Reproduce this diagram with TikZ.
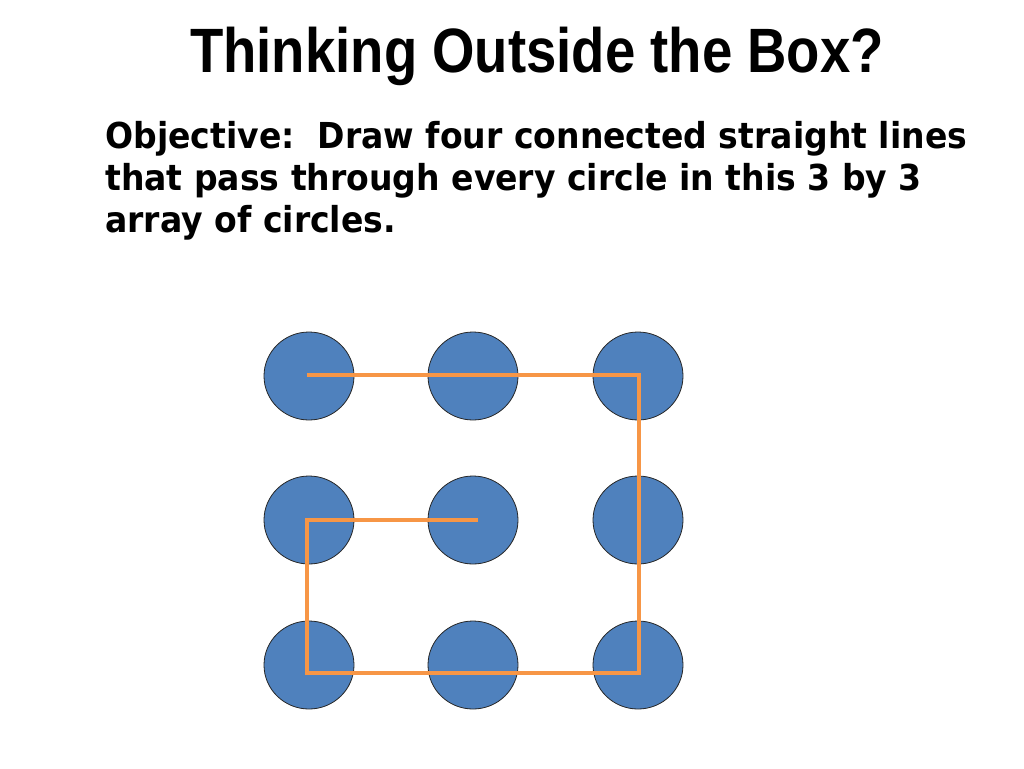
\documentclass[tikz,border=0pt]{standalone}
\usepackage{fontspec}
\usepackage{tikz}
\newfontfamily\titlefont[FakeStretch=0.87]{Liberation Sans}
\newfontfamily\bodyfont[FakeStretch=0.925]{DejaVu Sans}
\definecolor{dotblue}{HTML}{4F81BD}
\definecolor{pathorange}{HTML}{F79646}
\tikzset{
    dot/.style={ellipse,draw=black!85,fill=dotblue,line width=0.6pt,minimum width=90pt*0.75,minimum height=88pt*0.75,inner sep=0pt},
    path line/.style={pathorange,line width=2.4pt,line join=miter},
    every node/.append style={black}
}
\usetikzlibrary{shapes.geometric}

\begin{document}
\begin{tikzpicture}[x=0.75pt,y=-0.75pt]
                            \useasboundingbox (0,0) rectangle (1024,768);
                            \node[font=\titlefont\bfseries\fontsize{47}{56}\selectfont,anchor=base] (title) at (537,72) {Thinking Outside the Box?};
                            \node[font=\bodyfont\bfseries\fontsize{26.8}{31.5}\selectfont,anchor=base west,inner sep=0pt] (obj1) at (105,148) {Objective:\ \ Draw four connected straight lines};
                            \node[font=\bodyfont\bfseries\fontsize{26.8}{31.5}\selectfont,anchor=base west,inner sep=0pt] (obj2) at (105,190) {that pass through every circle in this 3 by 3};
                            \node[font=\bodyfont\bfseries\fontsize{26.8}{31.5}\selectfont,anchor=base west,inner sep=0pt] (obj3) at (105,232) {array of circles.};
                            \foreach \r/\y in {1/376,2/520,3/665}
                                \foreach \c/\x in {1/309,2/473,3/638}
                                    \node[dot] (c\r\c) at (\x,\y) {};
                            % the four connected lines
                            \coordinate (p0) at (307,375);
                            \coordinate (p1) at (639,375);
                            \coordinate (p2) at (639,673);
                            \coordinate (p3) at (307,673);
                            \coordinate (p4) at (307,520);
                            \coordinate (p5) at (478,520);
                            \draw[path line] (p0) -- (p1) -- (p2) -- (p3) -- (p4) -- (p5);
                        \end{tikzpicture}
\end{document}
